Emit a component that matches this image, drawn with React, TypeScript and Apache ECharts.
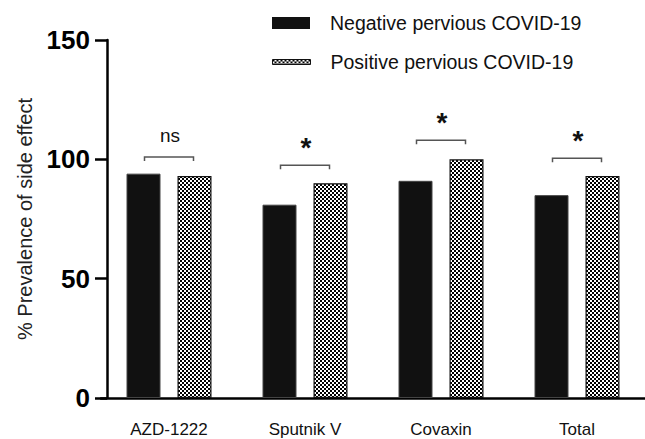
import React, { useEffect, useRef } from 'react';
import * as echarts from 'echarts';

const categories = ['AZD-1222', 'Sputnik V', 'Covaxin', 'Total'];
const seriesNames = ['Negative pervious COVID-19', 'Positive pervious COVID-19'];
const negativeValues = [94, 81, 91, 85];
const positiveValues = [93, 90, 100, 93];
const bracketLevels = [101, 97.5, 108, 100.5];
const significance = ['ns', '*', '*', '*'];
const yMin = 0;
const yMax = 150;
const yStep = 50;

const FONT = '"Liberation Sans", Arial, Helvetica, sans-serif';

function makeChecker(): any {
  const cell = 2;
  const n = 4;
  const size = cell * 2 * n;
  const c = document.createElement('canvas');
  c.width = size;
  c.height = size;
  const ctx = c.getContext('2d')!;
  ctx.fillStyle = '#ffffff';
  ctx.fillRect(0, 0, size, size);
  ctx.fillStyle = '#000000';
  for (let r = 0; r < n * 2; r++) {
    for (let k = 0; k < n * 2; k++) {
      if ((r + k) % 2 === 0) ctx.fillRect(k * cell, r * cell, cell, cell);
    }
  }
  return { image: c, repeat: 'repeat', imageWidth: size, imageHeight: size };
}

export default function App() {
  const ref = useRef<HTMLDivElement>(null);

  useEffect(() => {
    if (!ref.current) return;
    const chart = echarts.init(ref.current, null, { renderer: 'svg' });
    const checker = makeChecker();
    const legendText = { fontSize: 19.5, color: '#111', fontFamily: FONT, padding: [0, 0, 0, 15] };

    const option: any = {
      animation: false,
      backgroundColor: '#ffffff',
      legend: [
        {
          data: [seriesNames[0]], left: 272, top: 13, padding: 0,
          itemWidth: 38, itemHeight: 12, icon: 'rect', selectedMode: false,
          itemStyle: { borderWidth: 0 },
          textStyle: legendText,
        },
        {
          data: [seriesNames[1]], left: 272, top: 52, padding: 0,
          itemWidth: 38, itemHeight: 5, icon: 'rect', selectedMode: false,
          itemStyle: { borderWidth: 1, borderColor: '#111' },
          textStyle: legendText,
        },
      ],
      grid: { left: 101, top: 40, width: 554, height: 358 },
      xAxis: {
        type: 'category',
        data: categories,
        axisLine: { lineStyle: { color: '#000', width: 2.5 } },
        axisTick: { alignWithLabel: true, length: 12, lineStyle: { color: '#000', width: 2.5 } },
        axisLabel: { fontSize: 17, color: '#111', margin: 23, fontFamily: FONT },
      },
      yAxis: {
        type: 'value',
        min: yMin,
        max: yMax,
        interval: yStep,
        offset: -6,
        name: '% Prevalence of side effect',
        nameLocation: 'middle',
        nameGap: 72,
        nameTextStyle: { fontSize: 20, color: '#222', fontFamily: FONT },
        splitLine: { show: false },
        axisLine: { show: true, lineStyle: { color: '#000', width: 2.5 } },
        axisTick: { show: true, length: 12, lineStyle: { color: '#000', width: 2.5 } },
        axisLabel: { fontSize: 26, fontWeight: 'bold', color: '#000', margin: 17, fontFamily: FONT },
      },
      series: [
        {
          name: seriesNames[0],
          type: 'bar',
          data: negativeValues,
          barWidth: 34,
          barGap: '50%',
          itemStyle: { color: '#111', borderColor: '#444', borderWidth: 1 },
        },
        {
          name: seriesNames[1],
          type: 'bar',
          data: positiveValues,
          barWidth: 34,
          barGap: '50%',
          itemStyle: { color: checker, borderColor: '#111', borderWidth: 1.2 },
        },
        {
          name: 'significance',
          type: 'custom',
          data: categories.map((_, i) => [i, bracketLevels[i]]),
          encode: { x: 0, y: 1 },
          z: 5,
          renderItem: (params: any, api: any) => {
            const p = api.coord([api.value(0), api.value(1)]);
            const x = p[0];
            const y = p[1];
            const half = 24.5;
            const drop = 4;
            const label = significance[params.dataIndex];
            const isStar = label === '*';
            return {
              type: 'group',
              children: [
                {
                  type: 'polyline',
                  shape: { points: [[x - half, y + drop], [x - half, y], [x + half, y], [x + half, y + drop]] },
                  style: { stroke: '#555', lineWidth: 1.5, fill: null },
                },
                {
                  type: 'text',
                  x: x + 1,
                  y: isStar ? y - 18 : y - 21,
                  style: {
                    text: label,
                    fontSize: isStar ? 28 : 19,
                    fontWeight: isStar ? 'bold' : 'normal',
                    fill: '#111',
                    align: 'center',
                    verticalAlign: 'middle',
                    fontFamily: FONT,
                  },
                },
              ],
            };
          },
        },
      ],
    };
    chart.setOption(option);
    return () => chart.dispose();
  }, []);

  return (
    <div
      ref={ref}
      style={{ position: 'fixed', left: 0, top: 0, width: 645, height: 439, background: '#fff' }}
    />
  );
}
